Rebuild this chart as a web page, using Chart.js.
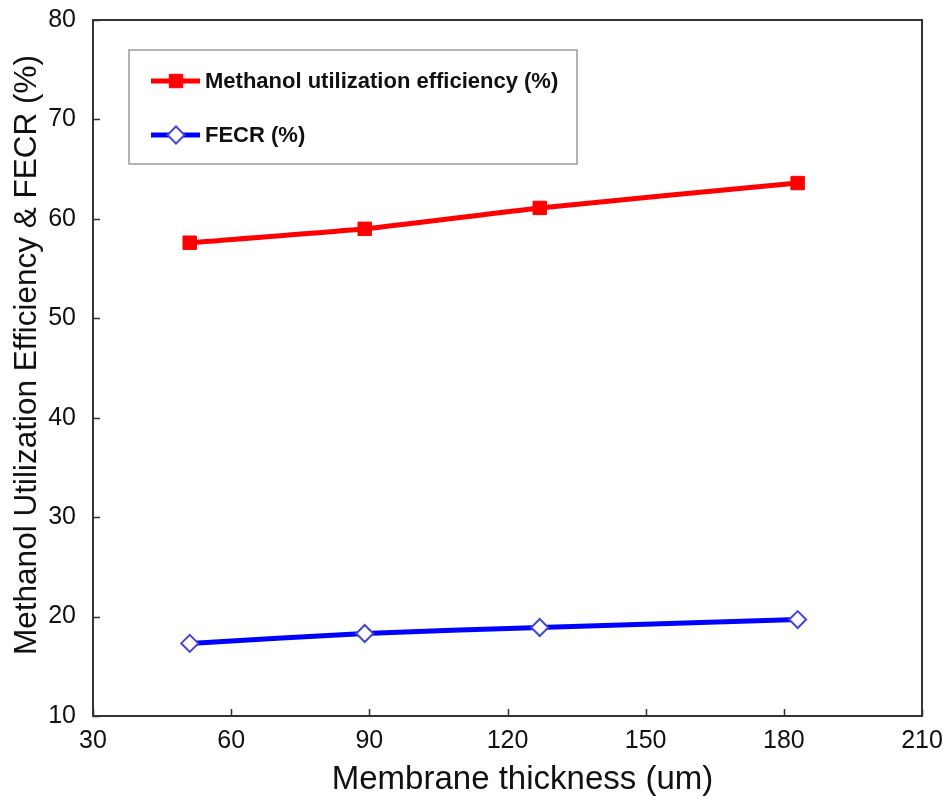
<!DOCTYPE html>
<html>
<head>
<meta charset="utf-8">
<script src="https://cdn.jsdelivr.net/npm/chart.js@4.4.1/dist/chart.umd.min.js"></script>
<style>
  html, body { margin: 0; padding: 0; background: #fff; }
  #wrap { width: 948px; height: 803px; }
</style>
</head>
<body>
<div id="wrap"><canvas id="chart" width="948" height="803"></canvas></div>
<script>
const thickness = [51, 89, 127, 183];
const methanolEff = [57.6, 59.0, 61.1, 63.6];
const fecr = [17.3, 18.3, 18.9, 19.7];
const xTicks = [30, 60, 90, 120, 150, 180, 210];
const yTicks = [10, 20, 30, 40, 50, 60, 70, 80];
const xTitle = 'Membrane thickness (um)';
const yTitle = 'Methanol Utilization Efficiency & FECR (%)';

const FONT = "'Liberation Sans', Arial, sans-serif";

const toPoints = (xs, ys) => xs.map((x, i) => ({ x: x, y: ys[i] }));

// frame around the plot with inward tick marks, plus axis titles
const framePlugin = {
    id: 'frame',
    afterDraw(chart) {
        const { ctx, chartArea: a, scales } = chart;
        ctx.save();
        ctx.strokeStyle = '#333';
        ctx.lineWidth = 2;
        ctx.strokeRect(a.left, a.top, a.right - a.left, a.bottom - a.top);
        ctx.lineWidth = 1.5;
        ctx.beginPath();
        xTicks.forEach(v => {
            const px = Math.round(scales.x.getPixelForValue(v)) + 0.5;
            ctx.moveTo(px, a.bottom);
            ctx.lineTo(px, a.bottom - 7);
        });
        yTicks.forEach(v => {
            const py = Math.round(scales.y.getPixelForValue(v)) + 0.5;
            ctx.moveTo(a.left, py);
            ctx.lineTo(a.left + 7, py);
        });
        ctx.stroke();

        // titles sit slightly off the plot centre in the original
        ctx.fillStyle = '#111';
        ctx.textAlign = 'center';
        ctx.textBaseline = 'middle';
        ctx.font = '33px ' + FONT;
        ctx.fillText(xTitle, (a.left + a.right) / 2 + 15, a.bottom + 64);
        ctx.translate(27, (a.top + a.bottom) / 2 - 13);
        ctx.rotate(-Math.PI / 2);
        ctx.font = '31.5px ' + FONT;
        ctx.fillText(yTitle, 0, 0);
        ctx.restore();
    }
};

// boxed legend inside the plot, top left
const legendPlugin = {
    id: 'boxLegend',
    afterDraw(chart) {
        const { ctx } = chart;
        const box = { x: 129, y: 50, w: 448, h: 114 };
        ctx.save();
        ctx.strokeStyle = '#9a9a9a';
        ctx.lineWidth = 1.5;
        ctx.strokeRect(box.x, box.y, box.w, box.h);
        const rows = [81, 135];
        chart.data.datasets.forEach((ds, i) => {
            const y = rows[i];
            ctx.strokeStyle = ds.borderColor;
            ctx.lineWidth = ds.borderWidth;
            ctx.beginPath();
            ctx.moveTo(151, y);
            ctx.lineTo(200, y);
            ctx.stroke();
            ctx.fillStyle = ds.pointBackgroundColor;
            ctx.strokeStyle = ds.pointBorderColor;
            ctx.lineWidth = ds.pointBorderWidth;
            Chart.helpers.drawPoint(ctx, {
                pointStyle: ds.pointStyle,
                radius: ds.pointRadius,
                borderWidth: ds.pointBorderWidth,
                rotation: 0
            }, 176, y);
            ctx.fillStyle = '#111';
            ctx.font = 'bold 22px ' + FONT;
            ctx.textBaseline = 'middle';
            ctx.textAlign = 'left';
            ctx.fillText(ds.label, 205, y + 1);
        });
        ctx.restore();
    }
};

new Chart(document.getElementById('chart'), {
    type: 'line',
    data: {
        datasets: [
            {
                label: 'Methanol utilization efficiency (%)',
                data: toPoints(thickness, methanolEff),
                borderColor: '#ff0000',
                borderWidth: 5,
                tension: 0.2,
                pointStyle: 'rect',
                pointRadius: 9.5,
                pointBackgroundColor: '#ff0000',
                pointBorderColor: '#ff0000',
                pointBorderWidth: 1
            },
            {
                label: 'FECR (%)',
                data: toPoints(thickness, fecr),
                borderColor: '#0000ff',
                borderWidth: 5,
                tension: 0.2,
                pointStyle: 'rectRot',
                pointRadius: 8.5,
                pointBackgroundColor: '#ffffff',
                pointBorderColor: '#4646d2',
                pointBorderWidth: 2
            }
        ]
    },
    options: {
        responsive: false,
        animation: false,
        layout: { padding: { top: 20, right: 26, left: 0, bottom: 0 } },
        plugins: {
            legend: { display: false },
            tooltip: { enabled: false }
        },
        scales: {
            x: {
                type: 'linear',
                min: 30,
                max: 210,
                afterBuildTicks: s => { s.ticks = xTicks.map(v => ({ value: v })); },
                afterFit: s => { s.height = 87; },
                grid: { display: false },
                border: { display: false },
                ticks: { color: '#111', font: { family: FONT, size: 25 }, padding: 2 }
            },
            y: {
                min: 10,
                max: 80,
                afterBuildTicks: s => { s.ticks = yTicks.map(v => ({ value: v })); },
                afterFit: s => { s.width = 93; s.paddingTop = 0; s.paddingBottom = 0; },
                grid: { display: false },
                border: { display: false },
                ticks: { color: '#111', font: { family: FONT, size: 25 }, padding: 9 }
            }
        }
    },
    plugins: [framePlugin, legendPlugin]
});
</script>
</body>
</html>
